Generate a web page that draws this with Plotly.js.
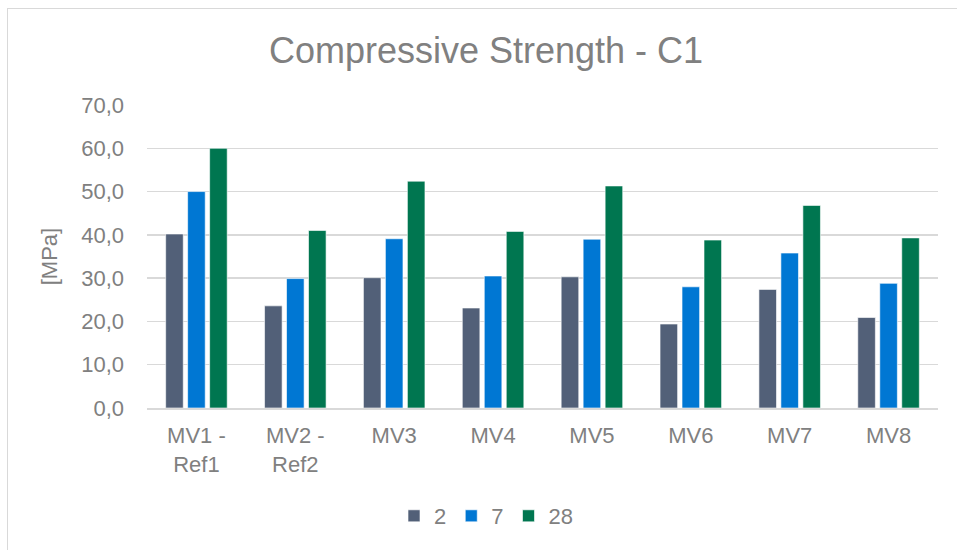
<!DOCTYPE html>
<html>
<head>
<meta charset="utf-8">
<script src="https://cdn.plot.ly/plotly-3.0.1.min.js"></script>
<style>
  html, body { margin: 0; padding: 0; background: #fff; }
  #wrap { position: relative; width: 957px; height: 550px; overflow: hidden; }
  #chart { width: 957px; height: 550px; }
  #frame { position: absolute; left: 7px; top: 8px; width: 1000px; height: 600px;
           border-left: 1px solid #d9d9d9; border-top: 1px solid #d9d9d9; pointer-events: none; }
</style>
</head>
<body>
<div id="wrap">
  <div id="chart"></div>
  <div id="frame"></div>
</div>
<script>
const categories = ["MV1 -<br>Ref1", "MV2 -<br>Ref2", "MV3", "MV4", "MV5", "MV6", "MV7", "MV8"];
const seriesNames = ["2", "7", "28"];
const day2  = [40.2, 23.6, 30.1, 23.1, 30.3, 19.4, 27.4, 20.9];
const day7  = [50.0, 29.9, 39.1, 30.5, 39.0, 28.0, 35.8, 28.8];
const day28 = [60.0, 41.0, 52.4, 40.8, 51.3, 38.8, 46.8, 39.3];
const colors = ["#526078", "#0077D3", "#007650"];

const values = [day2, day7, day28];
const FONT = "Liberation Sans, Arial, sans-serif";
const GREY = "#808080";

const traces = values.map((v, i) => ({
  type: "bar",
  name: seriesNames[i],
  x: categories,
  y: v,
  marker: { color: colors[i], line: { color: "rgba(255,255,255,0.6)", width: 1 } },
  hoverinfo: "x+y+name"
}));

const layout = {
  width: 957, height: 550,
  margin: { l: 147, r: 19, t: 105, b: 142, pad: 0 },
  paper_bgcolor: "#ffffff",
  plot_bgcolor: "#ffffff",
  separators: ",.",
  barmode: "group",
  bargap: 0.333,
  bargroupgap: 0.2,
  font: { family: FONT, color: GREY, size: 22 },
  title: {
    text: "Compressive Strength - C1",
    font: { family: FONT, size: 36, color: GREY },
    xref: "container", x: 486 / 957, xanchor: "center",
    yref: "container", y: 1 - 50 / 550, yanchor: "middle"
  },
  xaxis: {
    type: "category",
    showgrid: false,
    showline: true, linecolor: "#d9d9d9", linewidth: 1.5,
    ticks: "",
    ticklabelstandoff: 7,
    tickfont: { family: FONT, size: 22, color: GREY },
    fixedrange: true
  },
  yaxis: {
    range: [0, 70],
    dtick: 10,
    tickformat: ".1f",
    showgrid: true, gridcolor: "#d9d9d9", gridwidth: 1.5,
    zeroline: false,
    showline: false,
    ticks: "",
    ticklabelstandoff: 22,
    tickfont: { family: FONT, size: 22, color: GREY },
    title: { text: "[MPa]", font: { family: FONT, size: 22, color: GREY }, standoff: 17 },
    fixedrange: true
  },
  showlegend: true,
  legend: {
    orientation: "h",
    xref: "container", x: 486 / 957, xanchor: "center",
    yref: "container", y: 1 - 516 / 550, yanchor: "middle",
    font: { family: FONT, size: 22, color: GREY },
    itemwidth: 30,
    traceorder: "normal",
    bgcolor: "rgba(0,0,0,0)"
  }
};

Plotly.newPlot("chart", traces, layout, { displayModeBar: false, staticPlot: true });
</script>
</body>
</html>
